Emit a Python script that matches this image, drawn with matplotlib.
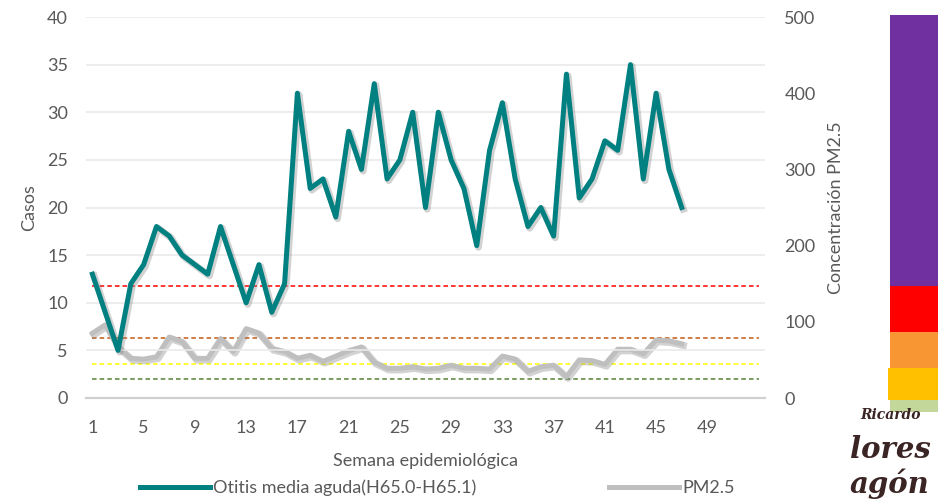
import numpy as np
import matplotlib
matplotlib.use("Agg")
import matplotlib.pyplot as plt
import matplotlib.patheffects as pe
from matplotlib.patches import Rectangle

# Casos semanales de otitis media aguda y concentración de PM2.5
semanas = list(range(1, 48))
otitis = [13, 9, 5, 12, 14, 18, 17, 15, 14, 13, 18, 14, 10, 14, 9, 12,
          32, 22, 23, 19, 28, 24, 33, 23, 25, 30, 20, 30, 25, 22, 16, 26,
          31, 23, 18, 20, 17, 34, 21, 23, 27, 26, 35, 23, 32, 24, 20]
pm25 = [85, 96, 67, 52, 51, 54, 80, 74, 52, 52, 78, 61, 91, 85, 65, 61,
        52, 56, 48, 55, 62, 67, 47, 39, 39, 41, 38, 39, 43, 39, 39, 38,
        55, 51, 35, 41, 43, 28, 50, 49, 44, 64, 64, 58, 76, 75, 71]

# Límites de calidad del aire para PM2.5 (eje derecho)
limites = [147, 79, 45, 25]
colores_limites = ["#ff0000", "#c55a11", "#ffff00", "#548235"]

n_semanas = 53
etiquetas_x = list(range(1, 50, 4))

gris = "#595959"
plt.rcParams["font.family"] = ["Lato", "DejaVu Sans"]
fs = 13

fig = plt.figure(figsize=(9.38, 4.99), dpi=100)
ax = fig.add_axes([86 / 938, 1 - 398 / 499, (765 - 86) / 938, (398 - 17) / 499])
ax2 = ax.twinx()

sombra = [pe.SimpleLineShadow(offset=(1.2, -1.2), shadow_color="0.5", alpha=0.35, linewidth=5),
          pe.Normal()]

# eje derecho: PM2.5 y límites
semanas_lim = [1, n_semanas]
for valor, color in zip(limites, colores_limites):
    ax2.plot(semanas_lim, [valor, valor], color=color, lw=1.1, ls=(0, (3, 2)), zorder=2)
ax2.plot(semanas, pm25, color="#bfbfbf", lw=3.6, solid_joinstyle="round",
         path_effects=sombra, zorder=3)
ax2.set_ylim(0, 500)
ax2.set_yticks(range(0, 501, 100))
ax2.set_ylabel("Concentración PM2.5", color=gris, fontsize=fs, labelpad=9)

# eje izquierdo: casos
ax.plot(semanas, otitis, color="#008080", lw=3.6, solid_joinstyle="round",
        path_effects=sombra, zorder=4)
ax.set_ylim(0, 40)
ax.set_yticks(range(0, 41, 5))
ax.set_xlim(0.5, n_semanas + 0.5)
ax.set_xticks(etiquetas_x)
ax.set_ylabel("Casos", color=gris, fontsize=fs, labelpad=7)
ax.set_xlabel("Semana epidemiológica", color=gris, fontsize=fs, labelpad=12)
ax.grid(axis="y", color="#eaeaea", lw=1.2)
ax.set_axisbelow(True)

ax.set_zorder(ax2.get_zorder() + 1)
ax.patch.set_visible(False)

for a in (ax, ax2):
    for lado in ("top", "left", "right"):
        a.spines[lado].set_visible(False)
    a.spines["bottom"].set_color("#d0d0d0")
    a.spines["bottom"].set_linewidth(1.5)
    a.tick_params(length=0, labelsize=fs, labelcolor=gris)
ax.tick_params(axis="y", pad=13)
ax.tick_params(axis="x", pad=16)
ax2.tick_params(axis="y", pad=14)

# leyenda (dos entradas colocadas por separado)
entradas = [("#008080", "Otitis media aguda(H65.0-H65.1)", 140),
            ("#bfbfbf", "PM2.5", 609)]
for color, texto, x0 in entradas:
    fig.legend([plt.Line2D([], [], color=color, lw=3.6)], [texto],
               loc="center left", bbox_to_anchor=(x0 / 938, 1 - 488 / 499),
               frameon=False, fontsize=fs, labelcolor=gris, handlelength=3.9,
               handletextpad=0.15, borderaxespad=0, borderpad=0)

# escala de colores de calidad del aire
bandas = [(15, 286, "#7030a0", 890), (286, 332, "#ff0000", 890),
          (332, 376, "#f79633", 890), (368, 400, "#ffc000", 888),
          (400, 412, "#c4d79b", 890)]
for y0, y1, color, x0 in bandas:
    fig.add_artist(Rectangle((x0 / 938, 1 - y1 / 499), (938 - x0) / 938, (y1 - y0) / 499,
                             transform=fig.transFigure, color=color, lw=0))

# logotipo
fig.text(860 / 938, 1 - 415 / 499, "Ricardo", fontsize=10, family="DejaVu Serif",
         style="italic", weight="bold", color="#3b2424", va="center")
fig.text(850 / 938, 1 - 449 / 499, "lores", fontsize=21, family="DejaVu Serif",
         style="italic", weight="bold", color="#3b2424", va="center")
fig.text(850 / 938, 1 - 484 / 499, "agón", fontsize=21, family="DejaVu Serif",
         style="italic", weight="bold", color="#3b2424", va="center")

fig.savefig("out.png", dpi=100)
